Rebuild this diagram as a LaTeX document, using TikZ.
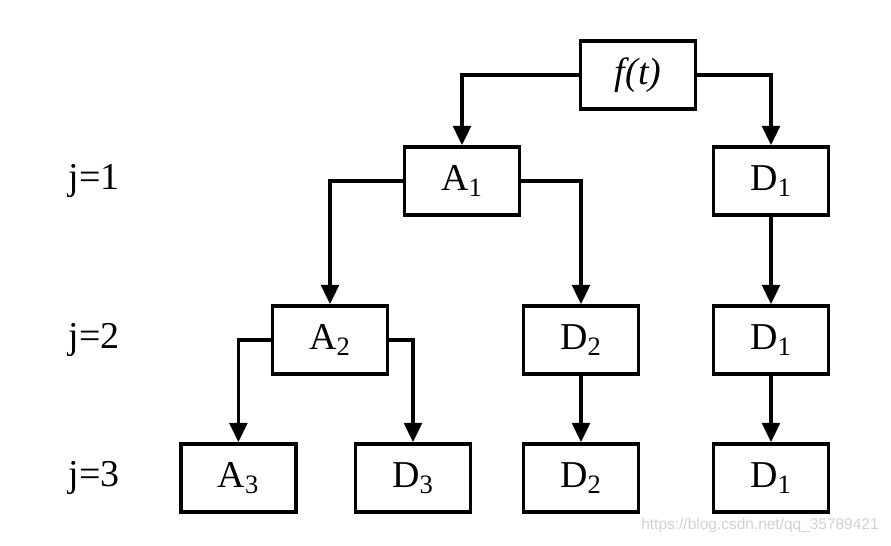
\documentclass[tikz,border=0pt]{standalone}
\usepackage{fontspec}
\setmainfont{Liberation Serif}
\newfontfamily\wmfont{Liberation Sans}
\usetikzlibrary{arrows.meta}
\tikzset{
  blk/.style={draw, line width=2.6pt, minimum width=2.875cm, minimum height=1.7cm, inner sep=0pt, font=\fontsize{27}{32}\selectfont},
  lvl/.style={font=\fontsize{27}{32}\selectfont},
  link/.style={line width=2.6pt, -{Triangle[length=0.48cm, width=0.44cm]}}
}
\begin{document}
\begin{tikzpicture}
			%%%%% START %%%%%
			\useasboundingbox (0, 0) rectangle (22.275, 13.65);
			
			\node[blk] (ft) at (15.95, 11.775) {\textit{f(t)}};
			
			\node[blk] (a1) at (11.55, 9.125) {A\textsubscript{1}};
			\node[blk] (d1) at (19.275, 9.125) {D\textsubscript{1}};
			
			\node[blk] (a2) at (8.25, 5.15) {A\textsubscript{2}};
			\node[blk] (d2) at (14.525, 5.15) {D\textsubscript{2}};
			\node[blk] (d1b) at (19.275, 5.15) {D\textsubscript{1}};
			
			\node[blk] (a3) at (5.96, 1.7) {A\textsubscript{3}};
			\node[blk] (d3) at (10.325, 1.7) {D\textsubscript{3}};
			\node[blk] (d2b) at (14.525, 1.7) {D\textsubscript{2}};
			\node[blk] (d1c) at (19.275, 1.7) {D\textsubscript{1}};
			
			\node[lvl] (j1) at (2.35, 9.125) {j=1};
			\node[lvl] (j2) at (2.35, 5.15) {j=2};
			\node[lvl] (j3) at (2.35, 1.7) {j=3};
			
			\draw[link] (ft.west) -| (a1.north);
			\draw[link] (ft.east) -| (d1.north);
			\draw[link] (a1.west) -| (a2.north);
			\draw[link] (a1.east) -| (d2.north);
			\draw[link] (d1) -- (d1b);
			\draw[link] (a2.west) -| (a3.north);
			\draw[link] (a2.east) -| (d3.north);
			\draw[link] (d2) -- (d2b);
			\draw[link] (d1b) -- (d1c);
			
			\node[text=black!18, font=\wmfont\fontsize{11}{13}\selectfont] (wm) at (19.0, 0.52) {https://blog.csdn.net/qq\_35789421};
			%%%%% END %%%%%
\end{tikzpicture}
\end{document}
